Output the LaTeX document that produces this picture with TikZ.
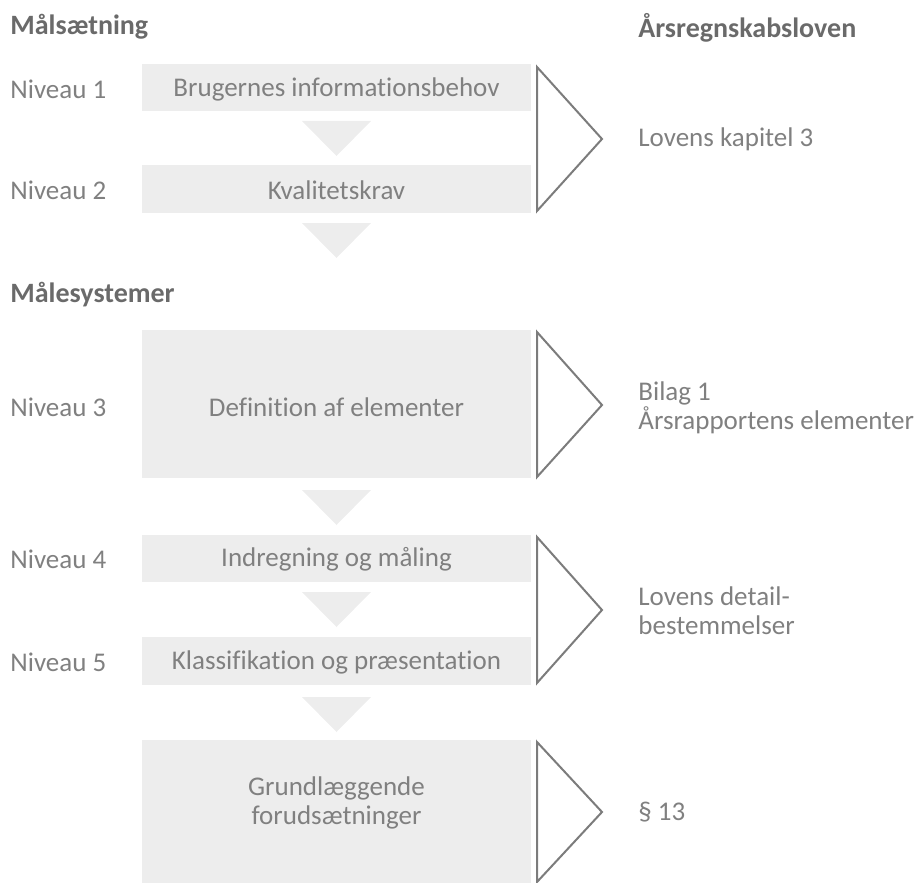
\documentclass[tikz,border=0pt]{standalone}
\usepackage{fontspec}
\setmainfont[Ligatures=NoCommon]{Carlito}
\usetikzlibrary{calc}
\definecolor{txtgray}{HTML}{808080}
\definecolor{headgray}{HTML}{6A6A6A}
\definecolor{boxgray}{HTML}{EDEDED}
\definecolor{linegray}{HTML}{7C7C7C}
\newcommand\txtsize{\fontsize{13.5}{14.5}\selectfont}
\tikzset{lvl/.style={anchor=west,text=txtgray,inner sep=0pt},
         head/.style={anchor=west,text=headgray,inner sep=0pt,font=\fontsize{14}{15}\selectfont\bfseries},
         boxtxt/.style={text=txtgray,align=center,inner sep=0pt},
         lawtxt/.style={anchor=west,text=txtgray,align=left,inner sep=0pt},
         boxfill/.style={fill=boxgray},
         chev/.style={draw=linegray,line width=1pt,line join=miter}}

\begin{document}
\begin{tikzpicture}[x=.5pt,y=-.5pt,font=\txtsize]
  \useasboundingbox (0,0) rectangle (921,883);
  % headings
  \node[head] (hmaal) at (10,27) {Målsætning};
  \node[head] (hlov) at (638,28) {Årsregnskabsloven};
  \node[head] (hsys) at (10,295) {Målesystemer};
  % boxes
  \fill[boxfill] (142,64) rectangle (531,111);
  \fill[boxfill] (142,165) rectangle (531,213);
  \fill[boxfill] (142,330) rectangle (531,478);
  \fill[boxfill] (142,535) rectangle (531,582);
  \fill[boxfill] (142,637) rectangle (531,685);
  \fill[boxfill] (142,740) rectangle (531,883);
  % down triangles
  \foreach \t in {121,223,490,592,697}
    \fill[boxfill] (302,\t) -- (371,\t) -- (336.5,\t+35) -- cycle;
  % box texts
  \node[boxtxt] (b1) at (336.5,89) {Brugernes informationsbehov};
  \node[boxtxt] (b2) at (336.5,190) {Kvalitetskrav};
  \node[boxtxt] (b3) at (336.5,407) {Definition af elementer};
  \node[boxtxt] (b4) at (336.5,559) {Indregning og måling};
  \node[boxtxt] (b5) at (336.5,662) {Klassifikation og præsentation};
  \node[boxtxt] (b6) at (336.5,803) {Grundlæggende\\forudsætninger};
  % levels
  \node[lvl] (n1) at (10,89) {Niveau 1};
  \node[lvl] (n2) at (10,190) {Niveau 2};
  \node[lvl] (n3) at (10,407) {Niveau 3};
  \node[lvl] (n4) at (10,559) {Niveau 4};
  \node[lvl] (n5) at (10,662) {Niveau 5};
  % chevrons
  \draw[chev] (537,67) -- (602,139) -- (537,211) -- cycle;
  \draw[chev] (537,332) -- (602,405) -- (537,477) -- cycle;
  \draw[chev] (537,537) -- (602,610) -- (537,683) -- cycle;
  \draw[chev] (537,742) -- (602,812) -- (537,882) -- cycle;
  % law references
  \node[lawtxt] (l1) at (638,139) {Lovens kapitel 3};
  \node[lawtxt] (l2) at (638,408) {Bilag 1\\Årsrapportens elementer};
  \node[lawtxt] (l3) at (638,611) {Lovens detail-\\bestemmelser};
  \node[lawtxt] (l4) at (638,812) {§ 13};
\end{tikzpicture}
\end{document}
